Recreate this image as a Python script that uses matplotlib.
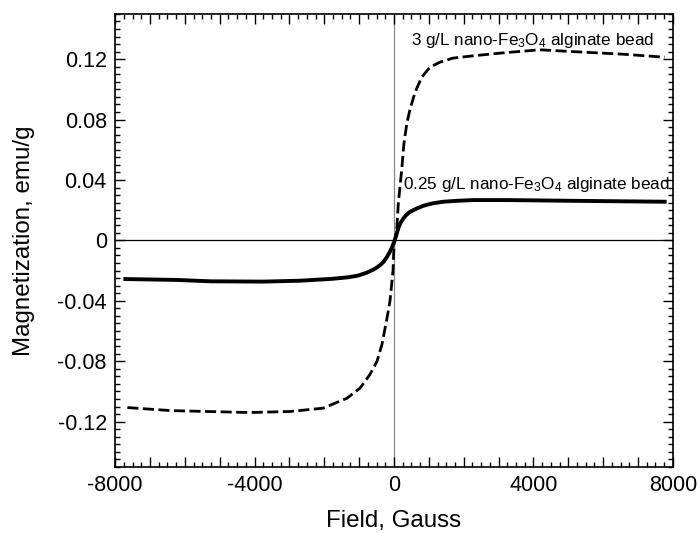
import numpy as np
import matplotlib
matplotlib.use('Agg')
import matplotlib.pyplot as plt
from matplotlib.ticker import MultipleLocator, FuncFormatter

plt.rcParams['font.family'] = ['Liberation Sans', 'DejaVu Sans']
plt.rcParams['mathtext.default'] = 'regular'

# 3 g/L nano-Fe3O4 alginate bead (dashed)
field_3 = [-7650, -6420, -4130, -2980, -2034, -1347, -974, -688, -487, -344, -200,
           -115, -29, 0, 77, 124, 220, 287, 372, 458, 602, 793, 1032, 1318, 1690,
           2264, 3229, 4183, 5135, 6562, 7765]
mag_3 = [-0.1107, -0.1127, -0.1140, -0.1133, -0.1111, -0.1045, -0.0978, -0.0887,
         -0.0800, -0.0687, -0.0513, -0.0400, -0.0200, -0.0030, 0.0067, 0.0247,
         0.0467, 0.0647, 0.0780, 0.0867, 0.0980, 0.1080, 0.1147, 0.1180, 0.1207,
         0.1222, 0.1244, 0.1262, 0.1250, 0.1233, 0.1213]

# 0.25 g/L nano-Fe3O4 alginate bead (solid)
field_025 = [-7708, -6227, -5272, -3753, -2693, -1800, -1300, -1031, -782, -600,
             -496, -401, -300, -209, -120, -50, 0, 60, 120, 172, 267, 350, 458,
             650, 840, 1100, 1413, 1800, 2272, 3229, 5130, 7765]
mag_025 = [-0.0256, -0.0262, -0.0271, -0.0273, -0.0267, -0.0255, -0.0244, -0.0233,
           -0.0214, -0.0194, -0.0180, -0.0164, -0.0142, -0.0112, -0.0076, -0.0042,
           -0.0012, 0.0030, 0.0078, 0.0110, 0.0145, 0.0168, 0.0189, 0.0211, 0.0229,
           0.0245, 0.0256, 0.0262, 0.0267, 0.0267, 0.0262, 0.0256]

fig = plt.figure(figsize=(6.98, 5.33), dpi=100)
ax = fig.add_axes([0.165, 0.124, 0.799, 0.850])

ax.axhline(0, color='black', lw=0.9, zorder=1)
ax.axvline(0, color='#888888', lw=0.9, zorder=1)

ax.plot(field_3, mag_3, color='black', lw=2.0, dashes=(4, 1.6), zorder=3)
ax.plot(field_025, mag_025, color='black', lw=2.8, zorder=3)

ax.text(500, 0.1325, '3 g/L nano-Fe$_3$O$_4$ alginate bead', fontsize=12.3,
        ha='left', va='center')
ax.text(250, 0.0367, '0.25 g/L nano-Fe$_3$O$_4$ alginate bead', fontsize=12.3,
        ha='left', va='center')

ax.set_xlim(-8000, 8000)
ax.set_ylim(-0.15, 0.15)

ax.xaxis.set_major_locator(MultipleLocator(1000))
ax.xaxis.set_minor_locator(MultipleLocator(250))
ax.xaxis.set_major_formatter(FuncFormatter(lambda v, p: f'{int(v)}' if v % 4000 == 0 else ''))
ax.yaxis.set_major_locator(MultipleLocator(0.04))
ax.yaxis.set_minor_locator(MultipleLocator(0.005))
ax.yaxis.set_major_formatter(FuncFormatter(lambda v, p: '0' if abs(v) < 1e-9 else f'{v:.2f}'))

ax.tick_params(which='both', direction='in', top=True, right=True, width=1.0)
ax.tick_params(which='major', length=7, labelsize=15.5, pad=6)
ax.tick_params(which='minor', length=3.5)
for s in ax.spines.values():
    s.set_linewidth(1.2)

ax.set_xlabel('Field, Gauss', fontsize=17.4, labelpad=10)
ax.set_ylabel('Magnetization, emu/g', fontsize=17.4, labelpad=16)

plt.savefig('out.png', dpi=100)
